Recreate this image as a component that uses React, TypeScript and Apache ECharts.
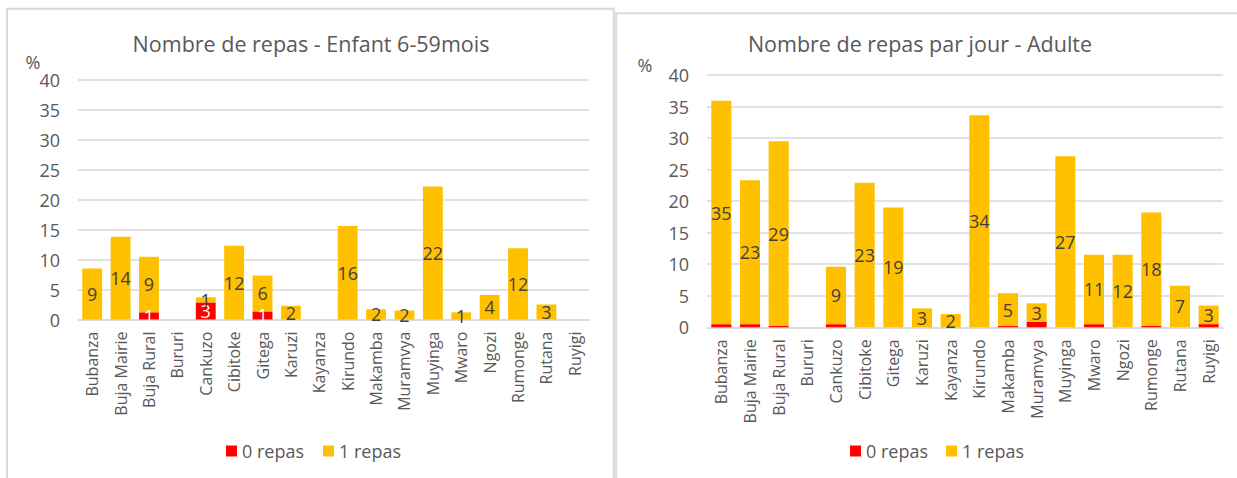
import React, { useEffect, useRef } from "react";
import * as echarts from "echarts";

const categories = [
  "Bubanza", "Buja Mairie", "Buja Rural", "Bururi", "Cankuzo", "Cibitoke",
  "Gitega", "Karuzi", "Kayanza", "Kirundo", "Makamba", "Muramvya",
  "Muyinga", "Mwaro", "Ngozi", "Rumonge", "Rutana", "Ruyigi",
];

const enfant0Repas = [0, 0, 1.2, 0, 2.85, 0, 1.35, 0, 0, 0, 0, 0, 0, 0, 0, 0, 0, 0];
const enfant1Repas = [8.5, 13.8, 9.3, 0, 0.85, 12.3, 6.0, 2.3, 0, 15.6, 1.7, 1.5, 22.2, 1.2, 4.1, 11.9, 2.5, 0];

const adulte0Repas = [0.5, 0.5, 0.2, 0, 0.5, 0, 0, 0, 0, 0, 0.2, 0.85, 0, 0.5, 0, 0.2, 0, 0.5];
const adulte1Repas = [35.4, 22.8, 29.3, 0, 9.1, 22.9, 19.0, 3.0, 2.1, 33.6, 5.2, 2.95, 27.1, 11.0, 11.5, 18.0, 6.6, 2.95];

const yTicks = { min: 0, max: 40, interval: 5 };
const seriesNames = ["0 repas", "1 repas"];
const titles = ["Nombre de repas - Enfant 6-59mois", "Nombre de repas par jour - Adulte"];

const FONT = "'Open Sans', 'Noto Sans', sans-serif";
const GRAY = "#595959";
const RED = "#FF0000";
const YELLOW = "#FFC000";

export default function App() {
  const ref = useRef<HTMLDivElement>(null);

  useEffect(() => {
    if (!ref.current) return;
    const chart = echarts.init(ref.current, undefined, { renderer: "svg" });

    const fmt = (p: any) => (p.value > 0 ? String(Math.round(p.value)) : "");

    const xAxisBase = (gridIndex: number) => ({
      type: "category" as const,
      gridIndex,
      data: categories,
      axisTick: { show: false },
      axisLine: { lineStyle: { color: "#D9D9D9", width: 1.5 } },
      axisLabel: {
        rotate: 90,
        interval: 0,
        margin: 12,
        fontSize: 16,
        color: GRAY,
        fontFamily: FONT,
      },
    });

    const yAxisBase = (gridIndex: number) => ({
      type: "value" as const,
      gridIndex,
      ...yTicks,
      axisLine: { show: false },
      axisTick: { show: false },
      splitLine: { lineStyle: { color: "#D9D9D9", width: 1.5 } },
      axisLabel: { fontSize: 18, color: GRAY, fontFamily: FONT, margin: 18 },
    });

    const barBase = {
      type: "bar" as const,
      barCategoryGap: "30%",
    };

    const option: any = {
      animation: false,
      backgroundColor: "#fff",
      textStyle: { fontFamily: FONT },
      grid: [
        { left: 78, top: 80, width: 511, height: 239.5 },
        { left: 707, top: 75, width: 516, height: 252.3 },
      ],
      xAxis: [xAxisBase(0), xAxisBase(1)],
      yAxis: [yAxisBase(0), yAxisBase(1)],
      legend: [
        {
          left: 226,
          top: 442,
          padding: 0,
          itemWidth: 11,
          itemHeight: 11,
          itemGap: 19,
          icon: "rect",
          data: seriesNames,
          textStyle: { fontSize: 18, color: GRAY, fontFamily: FONT },
        },
        {
          left: 850,
          top: 442,
          padding: 0,
          itemWidth: 11,
          itemHeight: 11,
          itemGap: 18,
          icon: "rect",
          data: seriesNames,
          textStyle: { fontSize: 18, color: GRAY, fontFamily: FONT },
        },
      ],
      series: [
        {
          ...barBase,
          name: seriesNames[0],
          stack: "a",
          xAxisIndex: 0,
          yAxisIndex: 0,
          data: enfant0Repas,
          itemStyle: { color: RED },
          label: { show: true, position: "inside", formatter: fmt, color: "#fff", fontSize: 18, fontFamily: FONT },
        },
        {
          ...barBase,
          name: seriesNames[1],
          stack: "a",
          xAxisIndex: 0,
          yAxisIndex: 0,
          data: enfant1Repas,
          itemStyle: { color: YELLOW },
          label: { show: true, position: "inside", formatter: fmt, color: "#404040", fontSize: 18, fontFamily: FONT },
        },
        {
          ...barBase,
          name: seriesNames[0],
          stack: "b",
          xAxisIndex: 1,
          yAxisIndex: 1,
          data: adulte0Repas,
          itemStyle: { color: RED },
          label: { show: false },
        },
        {
          ...barBase,
          name: seriesNames[1],
          stack: "b",
          xAxisIndex: 1,
          yAxisIndex: 1,
          data: adulte1Repas,
          itemStyle: { color: YELLOW },
          label: { show: true, position: "inside", formatter: fmt, color: "#404040", fontSize: 18, fontFamily: FONT },
        },
      ],
      graphic: [
        {
          type: "rect",
          shape: { x: 7, y: 8.7, width: 606.8, height: 520 },
          style: { fill: "none", stroke: "#D9D9D9", lineWidth: 2 },
          silent: true,
        },
        {
          type: "rect",
          shape: { x: 616.2, y: 13.3, width: 700, height: 520 },
          style: { fill: "none", stroke: "#D9D9D9", lineWidth: 2 },
          silent: true,
        },
        {
          type: "text",
          x: 311,
          y: 43,
          style: { text: titles[0], fontSize: 21.5, fill: GRAY, fontFamily: FONT, textAlign: "center", textVerticalAlign: "middle" },
        },
        {
          type: "text",
          x: 920,
          y: 43,
          style: { text: titles[1], fontSize: 21.5, fill: GRAY, fontFamily: FONT, textAlign: "center", textVerticalAlign: "middle" },
        },
        {
          type: "text",
          x: 33,
          y: 62,
          style: { text: "%", fontSize: 18, fill: GRAY, fontFamily: FONT, textAlign: "center", textVerticalAlign: "middle" },
        },
        {
          type: "text",
          x: 645,
          y: 65,
          style: { text: "%", fontSize: 18, fill: GRAY, fontFamily: FONT, textAlign: "center", textVerticalAlign: "middle" },
        },
      ],
    };

    chart.setOption(option);
    return () => chart.dispose();
  }, []);

  return (
    <div
      ref={ref}
      style={{ position: "absolute", left: 0, top: 0, width: 1237, height: 478 }}
    />
  );
}
